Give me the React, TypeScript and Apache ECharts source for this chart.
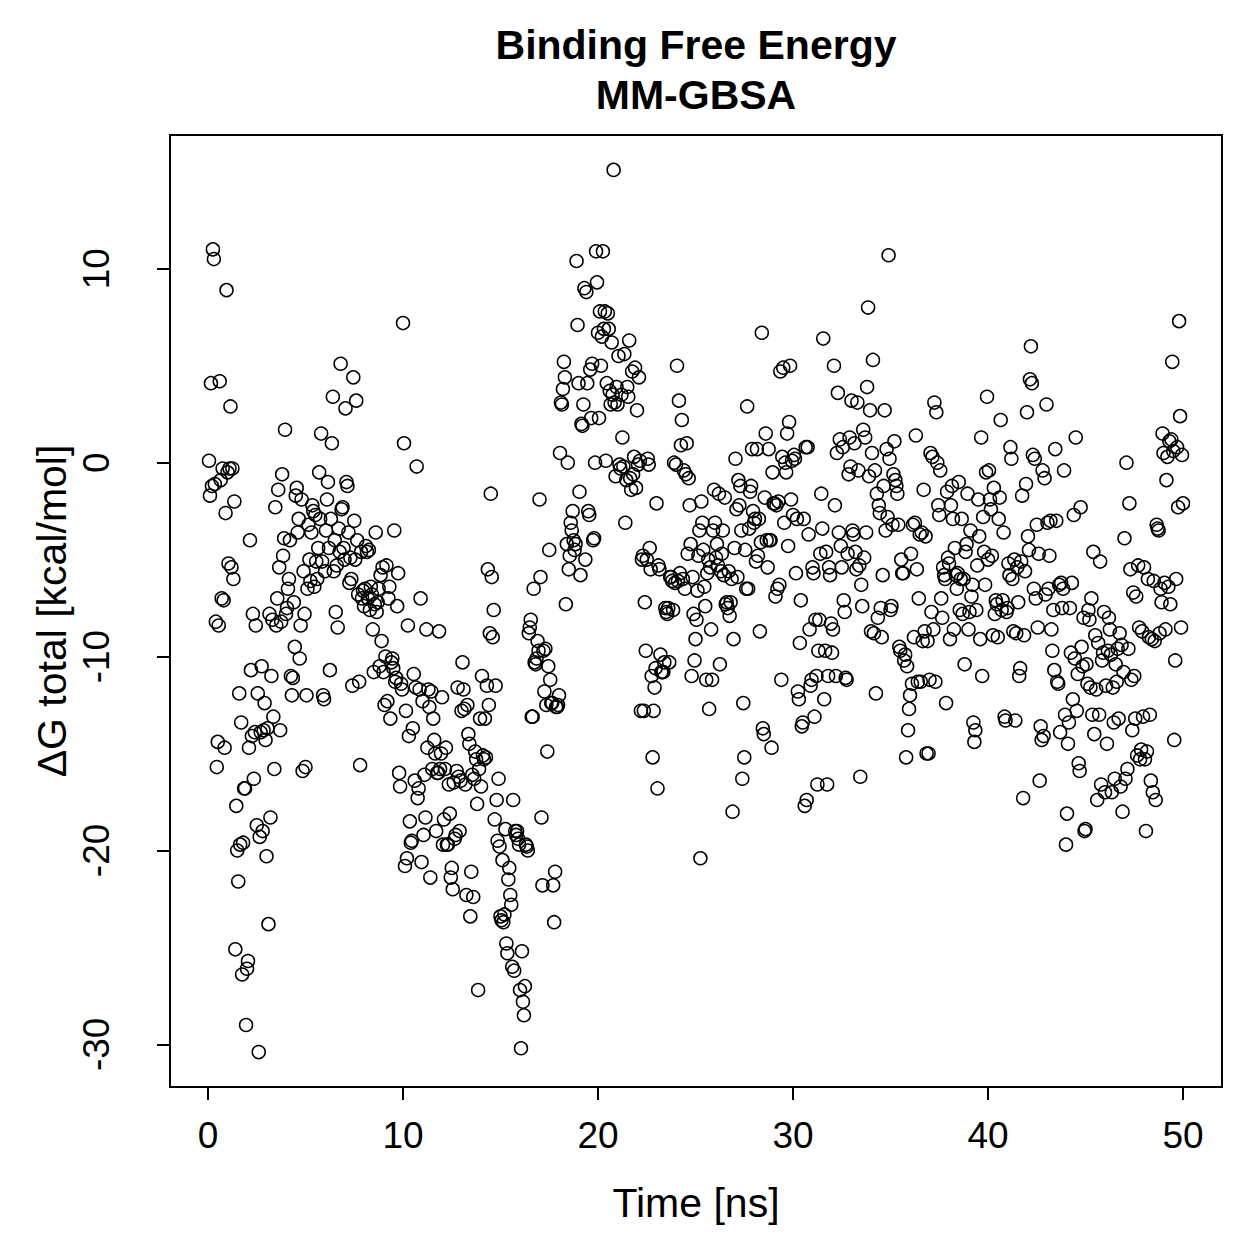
import React, { useEffect, useRef } from "react";
import * as echarts from "echarts";

// Tick positions
const xTicks = [0, 10, 20, 30, 40, 50];
const yTicks = [-30, -20, -10, 0, 10];

// Frame spacing of the trajectory (ns); each row below holds 20 frames = 1 ns
const frameStepNs = 0.05;

// ΔG total [kcal/mol], 0–10 ns
const dG_00_10 = [
  0.1, -1.7, 4.1, -1.2, 11.0, 10.5, -1.1, -8.2, -15.7, -14.4, -8.4, 4.2, -0.9, -7.0, -0.3, -7.1, -14.7, -2.6, 8.9, -0.5,
  -5.2, -0.3, 2.9, -5.4, -0.3, -6.0, -2.0, -25.1, -17.7, -20.0, -21.6, -11.9, -19.7, -13.4, -26.4, -19.6, -16.8, -16.8, -29.0, -26.1,
  -25.7, -14.7, -4.0, -10.7, -14.1, -7.8, -16.3, -13.9, -8.4, -18.7, -11.9, -30.4, -19.3, -13.9, -10.5, -19.0, -13.8, -12.4, -14.3, -20.3,
  -13.7, -23.8, -7.8, -18.3, -11.0, -8.1, -13.1, -15.8, -2.3, -8.4, -7.0, -1.4, -5.4, -13.8, -8.2, -0.6, -4.8, -3.9, 1.7, -7.8,
  -7.5, -6.5, -6.0, -4.0, -11.0, -12.0, -11.1, -7.2, -9.5, -1.7, -1.3, -3.6, -2.9, -10.1, -8.4, -1.9, -15.9, -5.6, -7.8, -15.7,
  -12.0, -6.5, -3.2, -5.0, -6.1, -3.6, -2.2, -2.5, -6.4, -2.7, -5.1, -6.0, -4.4, -0.5, -2.9, 1.5, -5.1, -12.0, -12.2, -5.6,
  -3.5, -1.9, -1.0, -4.4, -10.7, -2.9, 1.0, 3.4, -5.6, -4.0, -7.7, -5.3, -8.5, -3.4, -4.6, 5.1, -2.4, -2.3, -4.4, -5.0,
  2.8, -1.0, -1.2, -3.6, -6.2, -4.9, -6.0, -11.5, 4.4, -3.0, -5.0, 3.2, -4.0, -6.8, -11.3, -15.6, -4.6, -7.0, -6.6, -7.4,
  -6.5, -4.3, -4.6, -7.0, -4.5, -7.6, -6.4, -6.8, -8.6, -10.8, -7.3, -3.6, -7.7, -7.2, -6.5, -10.5, -5.8, -9.2, -5.4, -10.8,
  -12.5, -10.0, -5.3, -12.3, -7.0, -6.4, -13.2, -10.3, -10.1, -10.6, -3.5, -11.3, -11.1, -7.4, -5.7, -16.0, -16.7, -11.4, -11.7, 7.2,
];

// ΔG total [kcal/mol], 10–20 ns
const dG_10_20 = [
  1.0, -20.8, -12.8, -20.4, -8.4, -14.1, -18.5, -19.6, -19.5, -13.7, -10.9, -16.4, -11.6, -0.2, -17.3, -16.8, -11.7, -7.0, -20.6, -12.3,
  -19.2, -16.1, -18.3, -8.6, -14.7, -11.7, -12.6, -21.4, -11.8, -15.8, -13.2, -14.3, -15.0, -19.0, -16.0, -16.0, -8.7, -15.8, -15.0, -12.1,
  -19.7, -18.4, -15.8, -14.7, -19.7, -19.7, -16.6, -18.1, -21.4, -20.9, -22.0, -16.5, -19.4, -19.2, -15.9, -11.6, -16.2, -19.0, -16.4, -12.8,
  -10.3, -11.7, -12.7, -16.6, -22.3, -12.5, -14.0, -14.5, -23.4, -21.1, -16.1, -22.4, -16.3, -14.9, -15.3, -17.6, -27.2, -15.8, -13.2, -16.7,
  -11.0, -15.1, -15.3, -13.2, -15.2, -11.5, -5.5, -12.5, -8.8, -1.6, -5.9, -9.0, -7.6, -18.4, -11.5, -17.4, -19.5, -16.3, -19.8, -23.4,
  -23.6, -20.5, -23.7, -23.3, -18.9, -24.8, -25.3, -21.5, -20.9, -22.3, -22.8, -26.0, -17.4, -26.2, -19.0, -19.2, -19.0, -19.4, -19.7, -27.2,
  -30.2, -25.2, -27.8, -28.5, -27.0, -19.7, -19.8, -20.0, -8.8, -8.5, -8.1, -13.1, -13.1, -6.5, -10.3, -10.4, -10.1, -9.2, -9.7, -1.9,
  -5.9, -18.3, -21.8, -9.7, -11.8, -9.6, -12.5, -14.9, -10.5, -4.5, -11.2, -12.4, -12.4, -21.8, -23.7, -21.1, -12.6, -12.6, -12.5, -12.0,
  0.5, 3.1, 3.0, 3.8, 5.2, 4.4, -7.3, -4.2, 0.0, -5.5, -4.8, -3.1, -3.5, -2.5, -4.0, -4.5, -4.2, 10.4, 7.1, 4.1,
  -1.5, -5.8, 2.0, 1.9, 3.0, 9.0, -5.0, 8.8, 4.1, -2.5, -2.7, 4.8, 2.3, 5.1, -4.0, -3.9, 0.0, 10.9, 9.3, 6.7,
];

// ΔG total [kcal/mol], 20–30 ns
const dG_20_30 = [
  2.3, 7.8, 5.0, 6.5, 10.9, 6.9, 7.8, 0.1, 4.1, 7.7, 6.9, 3.7, 3.0, 6.2, 3.5, 15.1, 3.1, -0.7, 3.9, 3.0,
  5.5, -0.1, -0.3, 3.5, 1.3, -0.2, 5.6, -3.1, -0.9, 3.9, 3.4, 6.3, -0.8, -1.4, 4.7, -0.6, 0.3, 4.9, -1.3, 2.7,
  -0.1, 4.4, 0.1, -12.8, -5.0, -4.8, -12.8, -7.2, -9.7, -5.0, 0.2, -0.1, -4.4, -5.5, -11.0, -15.2, -12.8, -11.6, -10.6, -2.1,
  -16.8, -5.3, -5.5, -9.9, -10.8, -10.8, -10.8, -10.3, -7.5, -7.7, -7.8, -7.5, -10.3, -5.9, -5.9, -6.1, -7.6, 0.0, -6.2, -0.1,
  5.0, -6.1, 3.2, -5.7, 0.9, 2.2, -6.0, -0.4, -6.5, -0.6, 1.0, -4.7, -0.8, -2.2, -4.2, -11.0, -5.9, -7.8, -10.2, -9.1,
  -8.1, -6.6, -4.8, -3.5, -20.4, -2.0, -3.1, -4.5, -6.4, -7.4, -11.2, -5.7, -5.0, -12.7, -5.4, -8.6, -11.2, -3.5, -1.4, -3.1,
  -4.9, -4.2, -5.3, -1.6, -10.4, -5.6, -4.7, -3.5, -5.8, -1.8, -7.3, -7.2, -7.5, -5.6, -7.9, -7.2, -6.0, -18.0, -9.1, -4.4,
  0.2, -2.4, -5.9, -0.9, -2.2, -1.2, -3.5, -16.3, -12.4, -15.2, -4.5, -6.5, 2.9, -6.5, -3.4, -1.5, -1.2, 0.7, -2.5, -3.1,
  -2.9, -5.1, 0.7, -4.8, -2.9, -8.7, -4.1, 6.7, -13.7, -14.0, -1.8, 1.5, -4.0, -5.4, 0.7, -4.0, -4.0, -14.7, -0.5, -2.1,
  -2.1, -6.9, -2.2, -6.5, -2.0, -6.3, 4.7, -11.2, 0.3, 4.9, -3.1, 0.0, -0.5, 1.5, -4.3, 2.1, 5.0, -1.9, 0.1, -2.7,
];

// ΔG total [kcal/mol], 30–40 ns
const dG_30_40 = [
  0.4, 0.2, -5.7, -2.9, -11.8, -12.2, -9.3, -7.1, -13.6, -13.4, -2.9, -17.7, 0.8, -17.4, 0.8, -3.7, -8.6, -11.5, -11.2, -5.4,
  -5.7, -13.1, -8.1, -11.0, -16.6, -9.7, -8.1, -4.7, -1.6, -3.4, 6.4, -12.2, -9.7, -4.6, -16.6, -11.0, -5.4, -5.8, -8.3, -9.8,
  -8.6, 5.0, -2.2, -11.0, 0.5, 3.6, -3.6, 1.2, -4.3, -5.4, 0.8, -7.1, -7.7, -11.1, -11.2, -4.7, -0.6, 1.3, -0.2, 3.2,
  -3.5, -3.7, 1.0, -4.6, -5.5, 3.1, -0.4, -5.3, -16.2, -6.3, -7.4, 1.7, -4.9, 1.3, -3.6, 3.9, 8.0, -0.7, 2.7, -8.7,
  0.5, 5.3, -8.8, -0.4, -11.9, -1.6, -8.0, -2.2, -2.6, -7.5, -9.0, -5.8, -1.2, 2.7, -3.5, 0.7, -2.8, 10.7, 0.2, -7.6,
  -7.4, -3.2, -0.6, 1.1, -0.9, -1.2, -1.6, -3.2, -9.5, -9.7, -5.0, -5.7, -5.7, -10.2, -9.9, -15.2, -10.5, -13.8, -12.7, -12.0,
  -4.7, -11.4, -3.2, -9.0, -3.1, 1.4, -5.5, -11.3, -7.0, -3.7, -11.3, -3.6, -9.2, -1.4, -8.7, -3.8, -15.0, -9.2, -15.0, -11.2,
  0.5, -7.7, 0.3, -8.6, 3.1, -11.3, 2.6, 0.0, -2.2, -2.7, -0.4, -7.0, -8.0, -5.4, -5.8, -6.0, -12.4, -1.5, -4.9, -5.2,
  -9.1, -2.2, -1.2, -2.9, -8.6, -4.4, -5.8, -6.5, -5.7, -1.0, -7.6, -6.0, -2.9, -7.8, -6.0, -10.4, -4.6, -4.2, -1.6, -8.6,
  -7.7, -3.5, -6.9, -6.3, -13.4, -14.4, -13.8, -7.6, -5.3, -1.9, -3.8, -9.1, 1.3, -11.0, -2.8, -4.6, -6.3, -0.5, 3.4, -5.0,
];

// ΔG total [kcal/mol], 40–50 ns
const dG_40_50 = [
  -0.4, -1.9, -2.4, -4.8, -8.9, -1.3, -7.8, -7.1, -7.3, -9.0, -2.9, -1.8, 2.2, -7.6, -7.1, -3.6, -13.1, -13.3, -7.7, -7.5,
  -5.2, -5.8, 0.8, 0.2, -6.0, -8.7, -5.0, -13.3, -8.8, -5.4, -7.2, -11.0, -10.6, -5.1, -1.7, -17.3, -8.9, -5.6, -1.1, 2.6,
  -3.8, -4.5, 4.3, 6.0, 4.1, 0.4, -6.5, 0.2, -7.0, -3.2, -8.5, -4.7, -16.4, -13.6, -14.3, -0.4, -14.1, -0.8, -6.8, 3.0,
  -3.1, -6.5, -4.8, -3.0, -8.6, -9.7, -7.6, -10.7, 0.7, -3.0, -11.3, -11.4, -6.3, -13.9, -6.2, -7.5, -6.5, -0.4, -13.0, -19.7,
  -18.1, -14.5, -13.4, -7.5, -9.8, -6.2, -12.2, -2.7, -10.1, 1.3, -12.8, -10.9, -15.5, -15.9, -2.3, -9.5, -10.5, -8.0, -19.0, -18.9,
  -10.4, -11.4, -7.6, -8.1, -11.6, -7.0, -13.0, -4.6, -14.0, -8.9, -11.7, -17.4, -9.3, -13.0, -5.1, -16.6, -10.2, -9.8, -7.7, -17.0,
  -11.5, -14.5, -9.7, -8.0, -8.6, -9.9, -17.0, -11.6, -13.4, -16.3, -10.4, -11.3, -9.6, -13.2, -8.8, -16.7, -9.4, -18.0, -10.8, -3.9,
  -16.3, 0.0, -15.8, -9.6, -2.1, -5.5, -11.2, -13.8, -6.7, -11.0, -13.2, -6.9, -15.1, -5.3, -8.5, -15.3, -14.8, -8.7, -13.1, -5.4,
  -15.3, -19.0, -14.9, -6.0, -9.0, -13.0, -16.4, -9.1, -17.0, -6.1, -9.2, -17.4, -3.2, -3.4, -3.5, -8.8, -6.5, -7.2, 1.5, 0.5,
  -6.2, -8.6, -0.9, 0.3, -6.4, 1.1, -7.3, 1.2, 5.2, 0.6, -14.3, -10.2, -6.0, 0.8, -2.3, 7.3, 2.4, -8.5, 0.4, -2.1,
];

const blocks = [
  { start: 0, values: dG_00_10 },
  { start: 10, values: dG_10_20 },
  { start: 20, values: dG_20_30 },
  { start: 30, values: dG_30_40 },
  { start: 40, values: dG_40_50 },
];

const FONT = "'Liberation Sans', Arial, Helvetica, sans-serif";

export default function App() {
  const ref = useRef<HTMLDivElement>(null);

  useEffect(() => {
    document.body.style.margin = "0";
    if (!ref.current) return;
    const chart = echarts.init(ref.current, undefined, { renderer: "svg" });

    const points: number[][] = [];
    blocks.forEach((b) => {
      b.values.forEach((v, i) => {
        const t = Math.round((b.start + (i + 1) * frameStepNs) * 100) / 100;
        points.push([t, v]);
      });
    });

    const gridLeft = 170;
    const gridTop = 135;
    const gridW = 1052;
    const gridH = 952;
    const cx = gridLeft + gridW / 2;
    const cy = gridTop + gridH / 2;

    chart.setOption({
      animation: false,
      backgroundColor: "#fff",
      grid: {
        left: gridLeft,
        top: gridTop,
        width: gridW,
        height: gridH,
        show: true,
        borderColor: "#000",
        borderWidth: 2,
        backgroundColor: "transparent",
      },
      xAxis: {
        type: "value",
        min: -1.95,
        max: 52,
        axisLine: { show: false, onZero: false },
        splitLine: { show: false },
        axisTick: {
          show: true,
          customValues: xTicks,
          length: 13,
          lineStyle: { color: "#000", width: 2 },
        },
        axisLabel: {
          customValues: xTicks,
          margin: 30,
          fontSize: 37,
          color: "#000",
          fontFamily: FONT,
          hideOverlap: false,
        },
      },
      yAxis: {
        type: "value",
        min: -32.2,
        max: 16.9,
        axisLine: { show: false, onZero: false },
        splitLine: { show: false },
        axisTick: {
          show: true,
          customValues: yTicks,
          length: 13,
          lineStyle: { color: "#000", width: 2 },
        },
        axisLabel: {
          customValues: yTicks,
          rotate: 90,
          margin: 55,
          fontSize: 37,
          color: "#000",
          fontFamily: FONT,
          hideOverlap: false,
        },
      },
      series: [
        {
          type: "scatter",
          data: points,
          symbol: "circle",
          symbolSize: 13,
          silent: true,
          itemStyle: {
            color: "rgba(0,0,0,0)",
            borderColor: "#000",
            borderWidth: 1.5,
            opacity: 1,
          },
          emphasis: { disabled: true },
        },
      ],
      graphic: [
        {
          type: "text",
          x: cx,
          y: 45,
          style: {
            text: "Binding Free Energy",
            fontSize: 41,
            fontWeight: "bold",
            fontFamily: FONT,
            fill: "#000",
            align: "center",
            verticalAlign: "middle",
          },
        },
        {
          type: "text",
          x: cx,
          y: 95,
          style: {
            text: "MM-GBSA",
            fontSize: 41,
            fontWeight: "bold",
            fontFamily: FONT,
            fill: "#000",
            align: "center",
            verticalAlign: "middle",
          },
        },
        {
          type: "text",
          x: cx,
          y: 1203,
          style: {
            text: "Time [ns]",
            fontSize: 41,
            fontFamily: FONT,
            fill: "#000",
            align: "center",
            verticalAlign: "middle",
          },
        },
        {
          type: "text",
          x: 52,
          y: cy,
          rotation: Math.PI / 2,
          style: {
            text: "ΔG total [kcal/mol]",
            fontSize: 41,
            fontFamily: FONT,
            fill: "#000",
            align: "center",
            verticalAlign: "middle",
          },
        },
      ],
    });

    return () => {
      chart.dispose();
    };
  }, []);

  return <div ref={ref} style={{ width: 1259, height: 1259 }} />;
}
